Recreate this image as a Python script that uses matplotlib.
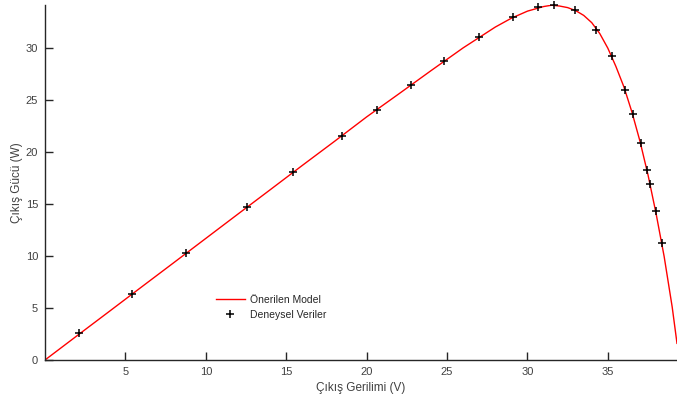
import matplotlib
matplotlib.use('Agg')
import matplotlib.pyplot as plt

plt.rcParams['font.family'] = ['Liberation Sans', 'DejaVu Sans']

# model curve
model_v = [0, 2, 4, 6, 8, 10, 12, 14, 16, 18, 20, 22, 24, 26, 28, 29, 30, 31,
           31.5, 32, 32.5, 33, 33.5, 34, 34.5, 35, 35.5, 36, 36.5, 37, 37.5,
           38, 38.5, 39, 39.3]
model_p = [0, 2.34, 4.67, 7.01, 9.34, 11.68, 14.02, 16.35, 18.69, 21.0, 23.35,
           25.56, 27.79, 29.98, 31.98, 32.83, 33.51, 33.95, 34.08, 34.0, 33.85,
           33.56, 33.1, 32.4, 31.35, 29.95, 28.2, 26.23, 23.8, 21.0, 17.76,
           14.06, 9.95, 5.1, 1.6]

# measured points
exp_v = [2.11, 5.41, 8.76, 12.55, 15.41, 18.46, 20.63, 22.75, 24.8, 26.97, 29.09,
         30.66, 31.65, 32.94, 34.26, 35.24, 36.07, 36.54, 37.04, 37.43, 37.6,
         37.97, 38.37]
exp_p = [2.59, 6.34, 10.28, 14.7, 18.06, 21.5, 24.0, 26.4, 28.7, 31.0, 32.9,
         33.88, 34.07, 33.59, 31.73, 29.23, 25.96, 23.6, 20.8, 18.28, 16.9,
         14.28, 11.21]

x_ticks = [5, 10, 15, 20, 25, 30, 35]
y_ticks = [0, 5, 10, 15, 20, 25, 30]

fig = plt.figure(figsize=(6.77, 4.03), dpi=100)
ax = fig.add_axes([45 / 677, 43 / 403, 632 / 677, 355 / 403])

ax.plot(model_v, model_p, '-', color='red', lw=1.0, label='Önerilen Model')
ax.plot(exp_v, exp_p, '+', color='black', ms=6, mew=1.1, linestyle='none',
        label='Deneysel Veriler', clip_on=False)

ax.set_xlim(0, 39.3)
ax.set_ylim(0, 34.1)
ax.set_xticks(x_ticks)
ax.set_yticks(y_ticks)

for s in ['top', 'right']:
    ax.spines[s].set_visible(False)
for s in ['left', 'bottom']:
    ax.spines[s].set_color('#262626')
    ax.spines[s].set_linewidth(1.0)
ax.tick_params(direction='in', length=6, width=1, colors='#262626',
               labelsize=8, labelcolor='#404040', pad=5)

ax.set_xlabel('Çıkış Gerilimi (V)', fontsize=8.5, color='#404040', labelpad=4)
ax.set_ylabel('Çıkış Gücü (W)', fontsize=8.5, color='#404040', labelpad=2)

leg = ax.legend(loc='upper left', bbox_to_anchor=(0.255, 0.21), frameon=False,
                fontsize=7.5, handlelength=2.8, handletextpad=0.5,
                labelspacing=0.45)
for t in leg.get_texts():
    t.set_color('#262626')

fig.savefig('out.png', dpi=100)
